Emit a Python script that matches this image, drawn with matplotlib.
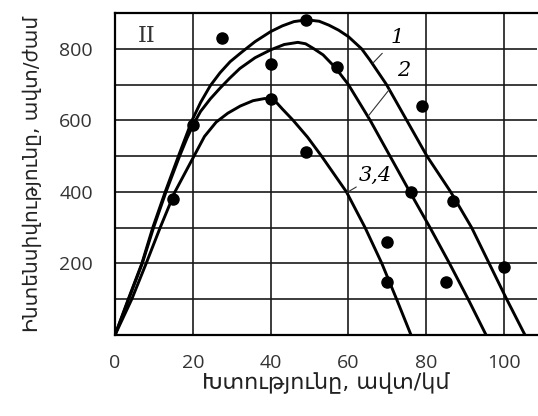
import matplotlib
matplotlib.use('Agg')
import matplotlib.pyplot as plt

# Кривые: плотность, авт/км -> интенсивность, авт/ч
x1 = [0, 3.4, 6.9, 9.7, 12.9, 16.3, 19.8, 22, 24.5, 27, 29.6, 32.5, 36, 40, 43,
      46, 49.3, 52.5, 55, 57.5, 60, 63.4, 65.5, 69.8, 75, 80.2, 86.3, 91.7,
      96.2, 100.7, 105.4]
y1 = [0, 100, 200, 300, 400, 500, 600, 650, 697, 733, 764, 790, 820, 848, 864,
      876, 881, 877, 866, 852, 834, 800, 769, 700, 600, 500, 400, 300,
      200, 100, 0]

x2 = [0, 3.5, 7, 9.9, 13.1, 16.6, 18.5, 20.2, 22, 24.5, 27, 29.5, 32.1, 36, 40,
      43.5, 47, 49, 51, 53.5, 56.6, 60, 65.6, 70.7, 75.8, 81, 86, 90.8, 95.4]
y2 = [0, 100, 200, 300, 400, 500, 550, 590, 625, 660, 690, 718, 745, 775, 797,
      812, 818, 814, 801, 783, 748, 700, 600, 500, 400, 300, 200, 100, 0]

x34 = [0, 4.3, 8, 11.6, 15.4, 20.3, 23, 26, 29, 32.2, 35.5, 38.5, 40, 41.5,
       43, 45.8, 49.5, 53.1, 59.5, 64.3, 68.6, 72.4, 76.1]
y34 = [0, 100, 200, 300, 400, 500, 555, 595, 620, 640, 655, 661, 659, 650,
       632, 600, 553, 500, 400, 300, 200, 100, 0]

# Точки наблюдений
px = [15, 20, 27.5, 40, 40, 49, 49, 57, 79, 76, 87, 70, 70, 85, 100]
py = [380, 588, 830, 757, 660, 880, 512, 750, 640, 400, 375, 260, 147, 147, 189]

xticks = [0, 20, 40, 60, 80, 100]
yticks = [200, 400, 600, 800]

fig = plt.figure(figsize=(5.38, 4.16), dpi=100)
ax = fig.add_axes([0.2138, 0.1947, 0.7844, 0.774])

ax.plot(x1, y1, color='black', lw=2.1, solid_joinstyle='round')
ax.plot(x2, y2, color='black', lw=2.1, solid_joinstyle='round')
ax.plot(x34, y34, color='black', lw=2.1, solid_joinstyle='round')
ax.plot(px, py, 'o', color='black', ms=8, clip_on=False)

ax.set_xlim(0, 108.5)
ax.set_ylim(0, 900)
ax.set_xticks(range(0, 101, 20))
ax.set_yticks(range(0, 901, 100))
ax.set_xticklabels([str(v) for v in xticks])
ax.set_yticklabels([str(v) if v in yticks else '' for v in range(0, 901, 100)])
ax.grid(True, color='#1a1a1a', lw=1.2)
ax.set_axisbelow(True)
ax.tick_params(length=0, labelsize=14, labelcolor='#333333')
ax.tick_params(axis='x', pad=14)
ax.tick_params(axis='y', pad=16)
for lab in ax.get_xticklabels() + ax.get_yticklabels():
    lab.set_family(['Open Sans', 'DejaVu Sans'])
for s in ['left', 'bottom', 'top']:
    ax.spines[s].set_linewidth(1.6)
ax.spines['right'].set_visible(False)

ax.text(8, 836, 'II', family='DejaVu Serif', fontsize=16, ha='center', va='center', color='#333333')

# Подписи кривых с выносками
ax.annotate('1', xy=(66.3, 760), xytext=(72.6, 832), ha='center', va='center',
            family='DejaVu Serif', style='italic', fontsize=15,
            arrowprops=dict(arrowstyle='-', lw=0.8, color='#333333', shrinkA=6, shrinkB=0))
ax.annotate('2', xy=(65.1, 612), xytext=(74.3, 738), ha='center', va='center',
            family='DejaVu Serif', style='italic', fontsize=15,
            arrowprops=dict(arrowstyle='-', lw=0.8, color='#333333', shrinkA=6, shrinkB=0))
ax.annotate('3,4', xy=(59.6, 398), xytext=(67, 446), ha='center', va='center',
            family='DejaVu Serif', style='italic', fontsize=15,
            arrowprops=dict(arrowstyle='-', lw=0.8, color='#333333', shrinkA=10, shrinkB=0))

ax.set_xlabel('Խտությունը, ավտ/կմ', fontsize=16, family='DejaVu Sans', labelpad=0, color='#222222')
ax.set_ylabel('Ինտենսիվությունը, ավտ/ժամ', fontsize=14.5, family='DejaVu Sans', labelpad=12, color='#222222')

fig.savefig('out.png', dpi=100)
